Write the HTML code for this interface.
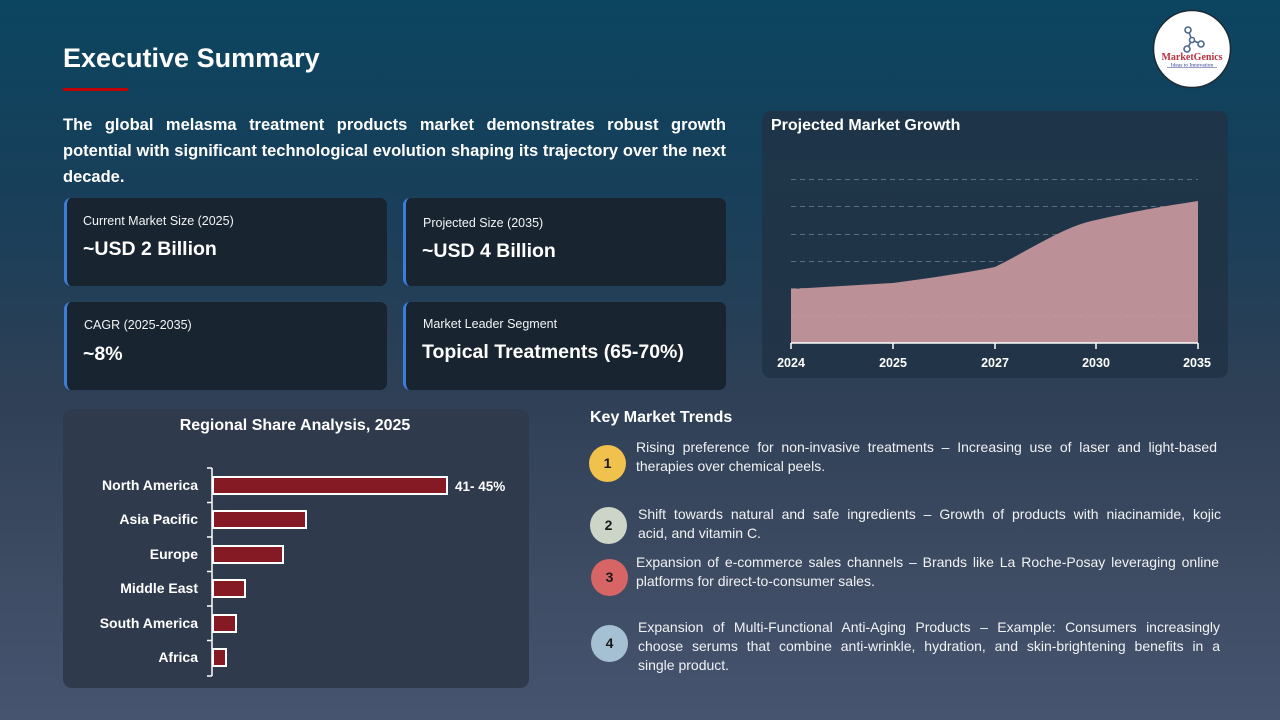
<!DOCTYPE html>
<html>
<head>
<meta charset="utf-8">
<style>
  html,body{margin:0;padding:0;}
  body{width:1280px;height:720px;overflow:hidden;position:relative;
    background:linear-gradient(180deg,#0b4560 0%,#173f5a 25%,#263f57 45%,#2f4056 55%,#3b4960 75%,#475470 100%);
    font-family:"Liberation Sans",Arial,sans-serif;color:#fff;}
  .abs{position:absolute;}
  .title{left:63px;top:40px;font-size:27px;font-weight:bold;line-height:36px;white-space:nowrap;}
  .redline{left:63px;top:88px;width:65px;height:3px;background:#c00000;}
  .para{left:63px;width:663px;font-size:16.5px;font-weight:bold;line-height:26px;}
  .jl{text-align:justify;text-align-last:justify;white-space:nowrap;}
  .card{background:#18242f;border-radius:7px;border-left:3px solid #3b7dd8;box-sizing:border-box;}
  .lbl{font-size:12.5px;line-height:16px;white-space:nowrap;color:#f2f4f6;}
  .val{font-size:19.5px;font-weight:bold;line-height:26px;white-space:nowrap;}
  .panel{border-radius:9px;}
  .trend{font-size:14px;line-height:19px;color:#f0f2f4;}
  .circ{border-radius:50%;width:37px;height:37px;text-align:center;line-height:37px;font-weight:bold;font-size:14px;color:#1a1a1a;}
</style>
</head>
<body>

<div class="abs title">Executive Summary</div>
<div class="abs redline"></div>

<div class="abs para" style="top:112px;">
  <div class="jl">The global melasma treatment products market demonstrates robust growth</div>
  <div class="jl">potential with significant technological evolution shaping its trajectory over the next</div>
  <div>decade.</div>
</div>

<!-- Cards -->
<div class="abs card" style="left:64px;top:198px;width:323px;height:88px;"></div>
<div class="abs lbl" style="left:83px;top:213px;">Current Market Size (2025)</div>
<div class="abs val" style="left:83px;top:236px;">~USD 2 Billion</div>

<div class="abs card" style="left:403px;top:198px;width:323px;height:88px;"></div>
<div class="abs lbl" style="left:423px;top:215px;">Projected Size (2035)</div>
<div class="abs val" style="left:422px;top:238px;">~USD 4 Billion</div>

<div class="abs card" style="left:64px;top:302px;width:323px;height:88px;"></div>
<div class="abs lbl" style="left:84px;top:317px;">CAGR (2025-2035)</div>
<div class="abs val" style="left:83px;top:341px;">~8%</div>

<div class="abs card" style="left:403px;top:302px;width:323px;height:88px;"></div>
<div class="abs lbl" style="left:423px;top:316px;">Market Leader Segment</div>
<div class="abs val" style="left:422px;top:339px;">Topical Treatments (65-70%)</div>

<!-- Logo -->
<svg class="abs" style="left:1150px;top:8px;" width="84" height="84" viewBox="0 0 84 84">
  <circle cx="42" cy="41" r="38.5" fill="#ffffff" stroke="#1b2a35" stroke-width="1.5"/>
  <g stroke="#4a6690" stroke-width="1.6" fill="none">
    <line x1="38" y1="22" x2="42" y2="32"/>
    <line x1="42" y1="32" x2="51" y2="36"/>
    <line x1="42" y1="32" x2="37" y2="41"/>
    <circle cx="38" cy="22" r="3" fill="#fff"/>
    <circle cx="42" cy="32" r="2.5" fill="#fff"/>
    <circle cx="51" cy="36" r="3" fill="#fff"/>
    <circle cx="37" cy="41" r="3" fill="#fff"/>
  </g>
  <text x="42" y="52" text-anchor="middle" font-family="Liberation Serif,serif" font-weight="bold" font-size="10" fill="#b8323f">MarketGenics</text>
  <text x="42" y="58.5" text-anchor="middle" font-family="Liberation Serif,serif" font-size="5.5" fill="#2d3f8a">Ideas to Innovation</text>
  <line x1="17" y1="59.5" x2="67" y2="59.5" stroke="#2d3f8a" stroke-width="0.5"/>
</svg>

<!-- Projected Market Growth panel -->
<div class="abs panel" style="left:762px;top:111px;width:466px;height:267px;background:linear-gradient(180deg,#1e3549 0%,#223447 100%);"></div>
<div class="abs" style="left:771px;top:116px;font-size:16px;font-weight:bold;line-height:20px;white-space:nowrap;">Projected Market Growth</div>
<svg class="abs" style="left:762px;top:111px;" width="466" height="267" viewBox="762 111 466 267">
  <g stroke="#5d6d7c" stroke-width="1" stroke-dasharray="5,4">
    <line x1="791" y1="179.5" x2="1198" y2="179.5"/>
    <line x1="791" y1="206.5" x2="1198" y2="206.5"/>
    <line x1="791" y1="234.5" x2="1198" y2="234.5"/>
    <line x1="791" y1="261.5" x2="1198" y2="261.5"/>
    <line x1="791" y1="288.5" x2="1198" y2="288.5"/>
    <line x1="791" y1="316.5" x2="1198" y2="316.5"/>
  </g>
  <path d="M791,289 L893,283 C930,278 965,273 995,267 C1035,247 1065,226 1096,220 C1130,212 1165,206 1198,201 L1198,343 L791,343 Z" fill="#bb9096"/>
  <g stroke="#c8a4a9" stroke-width="0.6" stroke-dasharray="5,4" opacity="0.6">
    <line x1="791" y1="316.5" x2="1198" y2="316.5"/>
  </g>
  <g stroke="#ffffff" stroke-width="1.5">
    <line x1="791" y1="343" x2="1198" y2="343"/>
    <line x1="791" y1="343" x2="791" y2="349"/>
    <line x1="893" y1="343" x2="893" y2="349"/>
    <line x1="995" y1="343" x2="995" y2="349"/>
    <line x1="1096" y1="343" x2="1096" y2="349"/>
    <line x1="1198" y1="343" x2="1198" y2="349"/>
  </g>
  <g font-family="Liberation Sans,Arial,sans-serif" font-weight="bold" font-size="12.5" fill="#ffffff" text-anchor="middle">
    <text x="791" y="367">2024</text>
    <text x="893" y="367">2025</text>
    <text x="995" y="367">2027</text>
    <text x="1096" y="367">2030</text>
    <text x="1197" y="367">2035</text>
  </g>
</svg>

<!-- Regional Share panel -->
<div class="abs panel" style="left:63px;top:409px;width:466px;height:279px;background:#2f3a4c;"></div>
<svg class="abs" style="left:63px;top:409px;" width="466" height="279" viewBox="63 409 466 279">
  <text x="295" y="430" text-anchor="middle" font-family="Liberation Sans,Arial,sans-serif" font-weight="bold" font-size="16" fill="#ffffff">Regional Share Analysis, 2025</text>
  <g stroke="#ffffff" stroke-width="1.5">
    <line x1="212" y1="468" x2="212" y2="676"/>
    <line x1="207" y1="468" x2="212" y2="468"/>
    <line x1="207" y1="502.5" x2="212" y2="502.5"/>
    <line x1="207" y1="537" x2="212" y2="537"/>
    <line x1="207" y1="571.5" x2="212" y2="571.5"/>
    <line x1="207" y1="606" x2="212" y2="606"/>
    <line x1="207" y1="640.5" x2="212" y2="640.5"/>
    <line x1="207" y1="676" x2="212" y2="676"/>
  </g>
  <g fill="#861a24" stroke="#ffffff" stroke-width="2">
    <rect x="213" y="477" width="234" height="17"/>
    <rect x="213" y="511" width="93" height="17"/>
    <rect x="213" y="546" width="70" height="17"/>
    <rect x="213" y="580" width="32" height="17"/>
    <rect x="213" y="615" width="23" height="17"/>
    <rect x="213" y="649" width="13" height="17"/>
  </g>
  <g font-family="Liberation Sans,Arial,sans-serif" font-weight="bold" font-size="14" fill="#ffffff" text-anchor="end">
    <text x="198" y="490">North America</text>
    <text x="198" y="524">Asia Pacific</text>
    <text x="198" y="559">Europe</text>
    <text x="198" y="593">Middle East</text>
    <text x="198" y="628">South America</text>
    <text x="198" y="662">Africa</text>
  </g>
  <text x="455" y="491" font-family="Liberation Sans,Arial,sans-serif" font-weight="bold" font-size="13.5" fill="#ffffff">41- 45%</text>
</svg>

<!-- Key Market Trends -->
<div class="abs" style="left:590px;top:408px;font-size:16px;font-weight:bold;line-height:20px;white-space:nowrap;">Key Market Trends</div>

<div class="abs circ" style="left:589px;top:445px;background:#f0c14c;">1</div>
<div class="abs trend" style="left:636px;top:438px;width:581px;">
  <div class="jl">Rising preference for non-invasive treatments – Increasing use of laser and light-based</div>
  <div>therapies over chemical peels.</div>
</div>

<div class="abs circ" style="left:590px;top:507px;background:#cdd5c9;">2</div>
<div class="abs trend" style="left:638px;top:505px;width:583px;">
  <div class="jl">Shift towards natural and safe ingredients – Growth of products with niacinamide, kojic</div>
  <div>acid, and vitamin C.</div>
</div>

<div class="abs circ" style="left:591px;top:559px;background:#d76565;">3</div>
<div class="abs trend" style="left:636px;top:553px;width:583px;">
  <div class="jl">Expansion of e-commerce sales channels – Brands like La Roche-Posay leveraging online</div>
  <div>platforms for direct-to-consumer sales.</div>
</div>

<div class="abs circ" style="left:591px;top:625px;background:#a5bfd3;">4</div>
<div class="abs trend" style="left:638px;top:618px;width:582px;">
  <div class="jl">Expansion of Multi-Functional Anti-Aging Products – Example: Consumers increasingly</div>
  <div class="jl">choose serums that combine anti-wrinkle, hydration, and skin-brightening benefits in a</div>
  <div>single product.</div>
</div>

</body>
</html>
